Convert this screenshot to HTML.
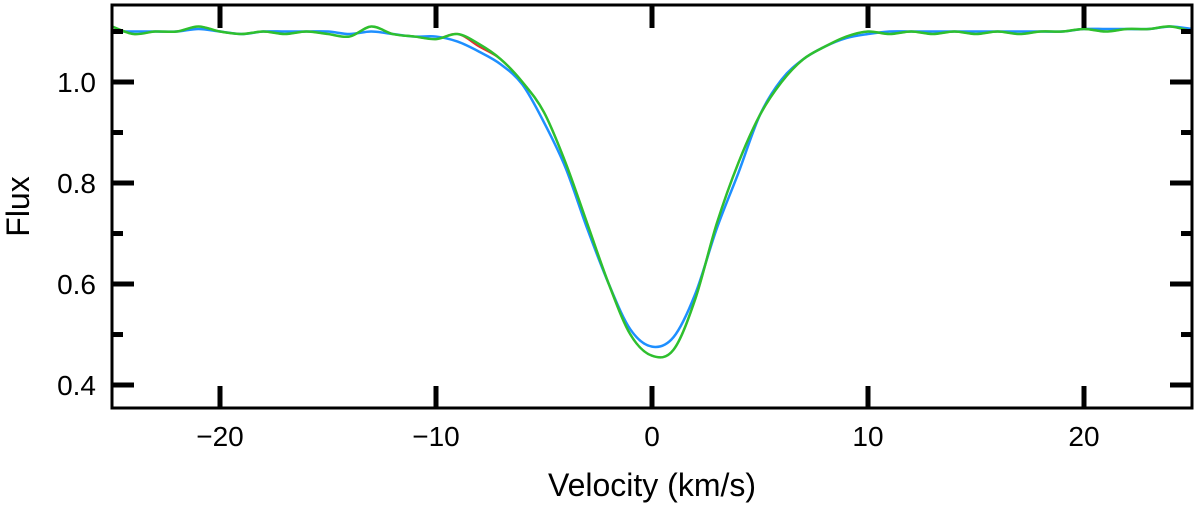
<!DOCTYPE html>
<html><head><meta charset="utf-8"><style>
body{margin:0;background:#fff;}
svg{display:block;font-family:"Liberation Sans",sans-serif;}
</style></head><body>
<svg id="chart" width="1200" height="507"></svg>
<script>
const velocity=[-25,-24,-23,-22,-21,-20,-19,-18,-17,-16,-15,-14,-13,-12,-11,-10,-9,-8,-7,-6,-5,-4,-3,-2,-1,0,1,2,3,4,5,6,7,8,9,10,11,12,13,14,15,16,17,18,19,20,21,22,23,24,25];
const fluxBlue=[1.10,1.10,1.10,1.10,1.105,1.10,1.095,1.10,1.10,1.10,1.10,1.095,1.10,1.095,1.09,1.09,1.08,1.06,1.035,0.995,0.92,0.83,0.71,0.60,0.51,0.476,0.495,0.58,0.71,0.82,0.935,1.005,1.045,1.07,1.087,1.095,1.10,1.10,1.10,1.10,1.10,1.10,1.10,1.10,1.10,1.105,1.105,1.105,1.105,1.11,1.105];
const fluxRed=[1.11,1.095,1.10,1.10,1.11,1.10,1.095,1.10,1.095,1.10,1.095,1.09,1.11,1.095,1.09,1.085,1.095,1.07,1.045,1.00,0.94,0.84,0.72,0.60,0.50,0.458,0.47,0.57,0.72,0.84,0.935,1.00,1.045,1.07,1.09,1.10,1.095,1.10,1.095,1.10,1.095,1.10,1.095,1.10,1.10,1.105,1.10,1.105,1.105,1.11,1.10];
const fluxGreen=[1.11,1.095,1.10,1.10,1.11,1.10,1.095,1.10,1.095,1.10,1.095,1.09,1.11,1.095,1.09,1.085,1.095,1.075,1.045,1.00,0.94,0.84,0.72,0.60,0.50,0.458,0.47,0.57,0.72,0.84,0.935,1.00,1.045,1.07,1.09,1.10,1.095,1.10,1.095,1.10,1.095,1.10,1.095,1.10,1.10,1.105,1.10,1.105,1.105,1.11,1.10];
const xTicks=[-20,-10,0,10,20];
const xTickLabels=["\u221220","\u221210","0","10","20"];
const yTicks=[0.4,0.6,0.8,1.0];
const yTickLabels=["0.4","0.6","0.8","1.0"];
const yMinor=[0.5,0.7,0.9,1.1];

const L=112,R=1192,T=5,B=408,xMin=-25,xMax=25,yMin=0.3545,yMax=1.1525;
const sx=v=>L+(v-xMin)/(xMax-xMin)*(R-L);
const sy=f=>B-(f-yMin)/(yMax-yMin)*(B-T);
const svg=document.getElementById('chart');
const NS='http://www.w3.org/2000/svg';
function mk(t,a){const e=document.createElementNS(NS,t);for(const k in a)e.setAttribute(k,a[k]);svg.appendChild(e);return e;}
function path(vals){
  const p=velocity.map((v,i)=>[sx(v),sy(vals[i])]);
  let d='M'+p[0][0]+','+p[0][1];
  for(let i=0;i<p.length-1;i++){
    const p0=p[Math.max(0,i-1)],p1=p[i],p2=p[i+1],p3=p[Math.min(p.length-1,i+2)];
    d+=' C'+(p1[0]+(p2[0]-p0[0])/6)+','+(p1[1]+(p2[1]-p0[1])/6)+' '+(p2[0]-(p3[0]-p1[0])/6)+','+(p2[1]-(p3[1]-p1[1])/6)+' '+p2[0]+','+p2[1];
  }
  return d;
}
const cp=mk('clipPath',{id:'clip'});
const cr=document.createElementNS(NS,'rect');cr.setAttribute('x',L);cr.setAttribute('y',T);cr.setAttribute('width',R-L);cr.setAttribute('height',B-T);cp.appendChild(cr);
let e;
e=mk('path',{d:path(fluxBlue),fill:'none',stroke:'#1e8fff','stroke-width':2.5,'clip-path':'url(#clip)'});


e=mk('path',{d:path(fluxRed),fill:'none',stroke:'#e03030','stroke-width':2,'clip-path':'url(#clip)'});


e=mk('path',{d:path(fluxGreen),fill:'none',stroke:'#2ec02e','stroke-width':2.5,'clip-path':'url(#clip)'});


e=mk('rect',{x:L,y:T,width:R-L,height:B-T,fill:'none',stroke:'#000','stroke-width':3});


xTicks.forEach((v,i)=>{
  const x=sx(v);
  e=mk('line',{x1:x,x2:x,y1:B,y2:B-22,stroke:'#000','stroke-width':5});
  
  
  e=mk('line',{x1:x,x2:x,y1:T,y2:T+23,stroke:'#000','stroke-width':5});
  
  
  e=mk('text',{x:x,y:B+38,'text-anchor':'middle','font-size':28,fill:'#000'});
  e.textContent=xTickLabels[i];
  
  
});
yTicks.forEach((f,i)=>{
  const y=sy(f);
  e=mk('line',{x1:L,x2:L+22,y1:y,y2:y,stroke:'#000','stroke-width':5});
  
  
  e=mk('line',{x1:R,x2:R-22,y1:y,y2:y,stroke:'#000','stroke-width':5});
  
  
  e=mk('text',{x:L-16,y:y+10,'text-anchor':'end','font-size':28,fill:'#000'});
  e.textContent=yTickLabels[i];
  
  
});
yMinor.forEach(f=>{
  const y=sy(f);
  e=mk('line',{x1:L,x2:L+11,y1:y,y2:y,stroke:'#000','stroke-width':5});
  
  
  e=mk('line',{x1:R,x2:R-11,y1:y,y2:y,stroke:'#000','stroke-width':5});
  
  
});
e=mk('text',{x:(L+R)/2,y:496,'text-anchor':'middle','font-size':32,fill:'#000'});
e.textContent='Velocity (km/s)';


e=mk('text',{x:29,y:(T+B)/2,'text-anchor':'middle','font-size':32,fill:'#000',transform:'rotate(-90 29 '+((T+B)/2)+')'});
e.textContent='Flux';


</script>
</body></html>
